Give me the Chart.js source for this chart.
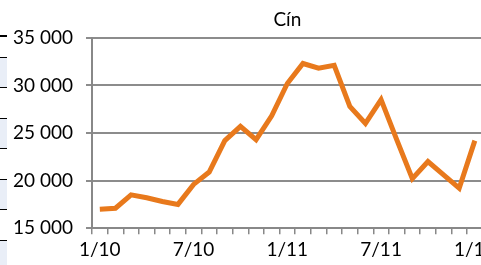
<!DOCTYPE html>
<html>
<head>
<meta charset="utf-8">
<script src="https://cdn.jsdelivr.net/npm/chart.js@4/dist/chart.umd.min.js"></script>
<style>
    html, body { margin: 0; padding: 0; background: #fff; overflow: hidden; }
    #wrapper { position: relative; width: 481px; height: 265px; overflow: hidden; }
    #chart { position: absolute; left: 0; top: 0; }
    #cells {
        position: absolute; left: 0; top: 35px; width: 7px; height: 230px;
        background: repeating-linear-gradient(to bottom,
            #fff 0px, #fff 20px, #000 20px, #000 21px,
            #e9eef7 21px, #e9eef7 50px, #000 50px, #000 51px, #fff 51px);
        background-size: 7px 61px;
        background-position: 0 0;
        border-top: 2px solid #000;
    }
</style>
</head>
<body>
<div id="wrapper">
    <div id="cells"></div>
    <canvas id="chart" width="500" height="265"></canvas>
</div>
<script>
// monthly tin price, 1/2010 .. 1/2012
let months = ['1/10', '2/10', '3/10', '4/10', '5/10', '6/10', '7/10', '8/10', '9/10', '10/10', '11/10', '12/10',
              '1/11', '2/11', '3/11', '4/11', '5/11', '6/11', '7/11', '8/11', '9/11', '10/11', '11/11', '12/11',
              '1/12'],
    prices = [17000, 17100, 18500, 18200, 17800, 17500, 19600, 20900, 24200, 25700, 24300, 26800,
              30200, 32300, 31800, 32100, 27800, 26000, 28500, 24300, 20200, 22000, 20600, 19200,
              24200],
    yTicks = [15000, 20000, 25000, 30000, 35000];

const font = { family: 'Lato', size: 19 };

function formatNumber(v) {
    return String(v).replace(/\B(?=(\d{3})+(?!\d))/g, ' ');
}

const ctx = document.getElementById('chart').getContext('2d');
const tin = new Chart(ctx, {
    type: 'line',
    data: {
        labels: months,
        datasets: [{
            label: 'Cín',
            data: prices,
            borderColor: '#e8791c',
            borderWidth: 5,
            pointRadius: 0,
            tension: 0,
            borderJoinStyle: 'miter'
        }]
    },
    options: {
        responsive: false,
        animation: false,
        layout: { padding: { left: 0, right: 0, top: 0, bottom: 0 } },
        plugins: {
            legend: { display: false },
            tooltip: { enabled: false },
            title: {
                display: true,
                text: 'Cín',
                fullSize: false,
                color: '#000',
                font: { family: 'Lato', size: 19, weight: 'normal' },
                padding: { top: 8, bottom: 7 }
            }
        },
        scales: {
            x: {
                type: 'category',
                offset: true,
                grid: {
                    offset: true,
                    drawOnChartArea: false,
                    color: '#888',
                    lineWidth: 1.5,
                    tickLength: 6
                },
                border: { color: '#888', width: 2 },
                ticks: {
                    autoSkip: false,
                    maxRotation: 0,
                    color: '#000',
                    font: font,
                    padding: 4,
                    callback: function (value, index) {
                        return index % 6 === 0 ? months[index] : '';
                    }
                }
            },
            y: {
                min: 15000,
                max: 35000,
                afterBuildTicks: function (scale) {
                    scale.ticks = yTicks.map(function (v) { return { value: v }; });
                },
                afterFit: function (scale) { scale.width = 92; },
                grid: {
                    color: '#8c8c8c',
                    lineWidth: 2,
                    tickLength: 6
                },
                border: { color: '#888', width: 2 },
                ticks: {
                    color: '#000',
                    font: font,
                    padding: 13,
                    callback: function (v) { return formatNumber(v); }
                }
            }
        }
    }
});
</script>
</body>
</html>
